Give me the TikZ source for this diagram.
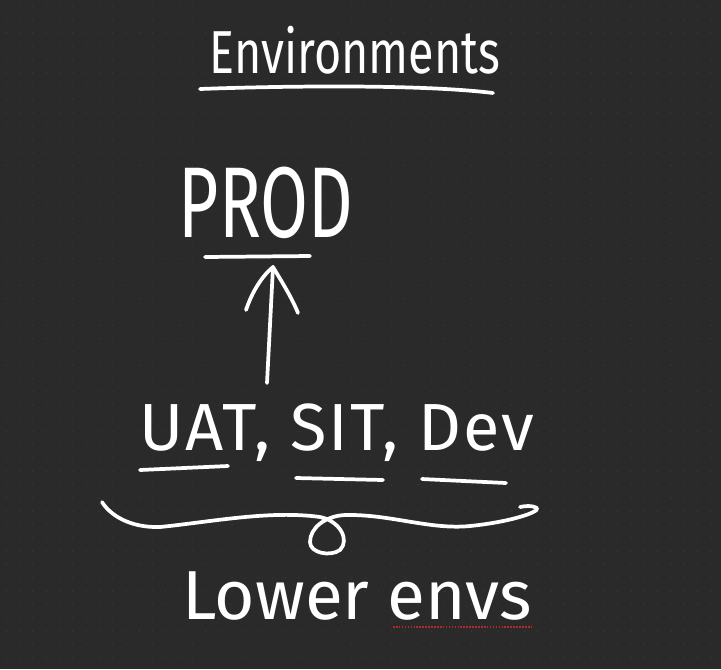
\documentclass[tikz,border=0pt]{standalone}
\usepackage{fontspec}
\setmainfont{Fira Sans}
\usetikzlibrary{arrows.meta}

\definecolor{boardbg}{RGB}{42,42,42}
\definecolor{boarddot}{RGB}{54,54,54}
\definecolor{spellred}{RGB}{180,40,40}

\tikzset{every picture/.style={line width=0.75pt}}
\tikzset{
  chalk/.style={text=white, inner sep=0pt, font=#1},
  pen/.style={draw=white, line width=2.8pt, line cap=round, line join=round},
}

\begin{document}
\begin{tikzpicture}[x=0.75pt,y=0.75pt,yscale=-1,xscale=1]
  %board and dot grid
  \useasboundingbox (0,0) rectangle (721,669);
  \fill[boardbg] (0,0) rectangle (721,669);
  \foreach \i in {0,...,53} {
    \foreach \j in {0,...,49} {
      \fill[boarddot] (6+\i*13.3,6+\j*13.3) circle (0.9);
    }
  }

  %titles and labels
  \draw (355,50) node [chalk={\fontsize{35}{40}\selectfont}] (title) {\scalebox{1}[1.3]{Environments}};
  \draw (266,203) node [chalk={\fontsize{52}{60}\selectfont}] (prod) {\scalebox{1}[1.45]{PROD}};
  \draw (337,433) node [chalk={\fontsize{50}{58}\selectfont\addfontfeature{LetterSpace=3}}] (lowerset) {UAT, SIT, Dev};
  \draw (357,596) node [chalk={\fontsize{52}{60}\selectfont}] (lowerenvs) {Lower envs};

  %underlines
  \draw [pen] (200,89) .. controls (280,86) and (420,84) .. (493,93) ;
  \draw [pen] (205,257) -- (310,256) ;
  \draw [pen] (140,470) -- (228,466) ;
  \draw [pen] (296,478) -- (383,480) ;
  \draw [pen] (422,479) -- (506,483) ;

  %arrow up to prod
  \coordinate (arrowtail) at (267,383);
  \coordinate (arrowtip) at (273,267);
  \draw [pen] (arrowtail) -- (arrowtip) ;
  \draw [pen] (246,310) .. controls (252,292) and (262,276) .. (arrowtip) .. controls (282,282) and (292,298) .. (298,313) ;

  %brace with loop
  \draw [pen] (102,502) .. controls (110,515) and (130,528) .. (160,527)
    .. controls (210,522) and (270,510) .. (320,517)
    .. controls (340,521) and (350,540) .. (340,550)
    .. controls (330,557) and (310,553) .. (310,542)
    .. controls (310,528) and (325,516) .. (345,515)
    .. controls (390,514) and (430,530) .. (470,526)
    .. controls (510,522) and (540,512) .. (537,508)
    .. controls (532,505) and (525,506) .. (520,507) ;

  %spell check mark
  \draw [spellred, densely dotted, line width=1.2pt] (393,627) -- (533,627) ;
\end{tikzpicture}
\end{document}
